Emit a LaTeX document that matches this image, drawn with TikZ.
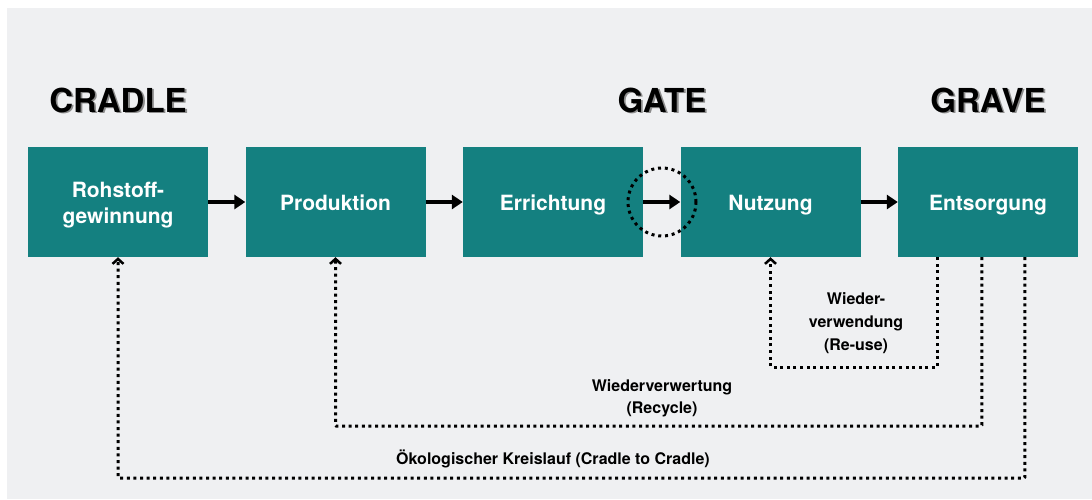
\documentclass[tikz,border=0pt]{standalone}
\usepackage{fontspec}
\setmainfont{TeX Gyre Heros}
\usepackage{xcolor}
\usetikzlibrary{arrows.meta,positioning,calc}

\definecolor{stagefill}{RGB}{20,128,128}
\definecolor{panelbg}{RGB}{239,240,242}

\begin{document}
\begin{tikzpicture}[x=1pt,y=-1pt,>={Triangle[length=11pt,width=14pt]},
  stage/.style={fill=stagefill,text=white,minimum width=180pt,minimum height=110pt,
    inner sep=0pt,align=center,font=\fontsize{21}{26}\selectfont\bfseries},
  phase/.style={font=\fontsize{33}{36}\selectfont\bfseries},
  back/.style={line width=3pt,dash pattern=on 3pt off 3.6pt,rounded corners=1pt,
    -{Straight Barb[length=5pt,width=11pt,line width=2.5pt]}},
  lbl/.style={align=center,font=\fontsize{16}{23}\selectfont\bfseries}]
\useasboundingbox (0,0) rectangle (1092,499);
\fill[panelbg] (7,8) rectangle (1092,499);

% life cycle stages
\foreach \n/\x/\t in {roh/118/{Rohstoff-\\gewinnung},prod/335.5/Produktion,
    err/553/Errichtung,nutz/770.5/Nutzung,ents/988/Entsorgung}
  \node[stage] (\n) at (\x,202)
    {\raisebox{-3pt}[\height][\depth]{\begin{tabular}{@{}c@{}}\t\end{tabular}}};

\draw[->,line width=4pt] (roh) -- (prod);
\draw[->,line width=4pt] (prod) -- (err);
\draw[->,line width=4pt] (err) -- (nutz);
\draw[->,line width=4pt] (nutz) -- (ents);

% phase headings with a soft shadow
\foreach \n/\x/\t in {cradle/118/CRADLE,gate/662/GATE,grave/988/GRAVE}{
  \node[phase,text=black!45] (\n s) at (\x+1.8,101.8) {\t};
  \node[phase] (\n) at (\x,100) {\t};
}
\node[draw,circle,minimum size=68pt,line width=3pt,dash pattern=on 3pt off 3.8pt]
  (gatering) at (662,202) {};

% return loops
\draw[back] ($(ents.south west)+(40,0)$) -- ++(0,110) -| (nutz.south);
\draw[back] ($(ents.south west)+(84,0)$) -- ++(0,169) -| (prod.south);
\draw[back] ($(ents.south west)+(127,0)$) -- ++(0,221) -| (roh.south);

\node[lbl] (reuse) at (856,323) {Wieder-\\verwendung\\(Re-use)};
\node[lbl,font=\fontsize{16}{22}\selectfont\bfseries] (recycle) at (662,398)
  {Wiederverwertung\\(Recycle)};
\node[lbl] (c2c) at (553,459) {Ökologischer Kreislauf (Cradle to Cradle)};
\end{tikzpicture}
\end{document}
